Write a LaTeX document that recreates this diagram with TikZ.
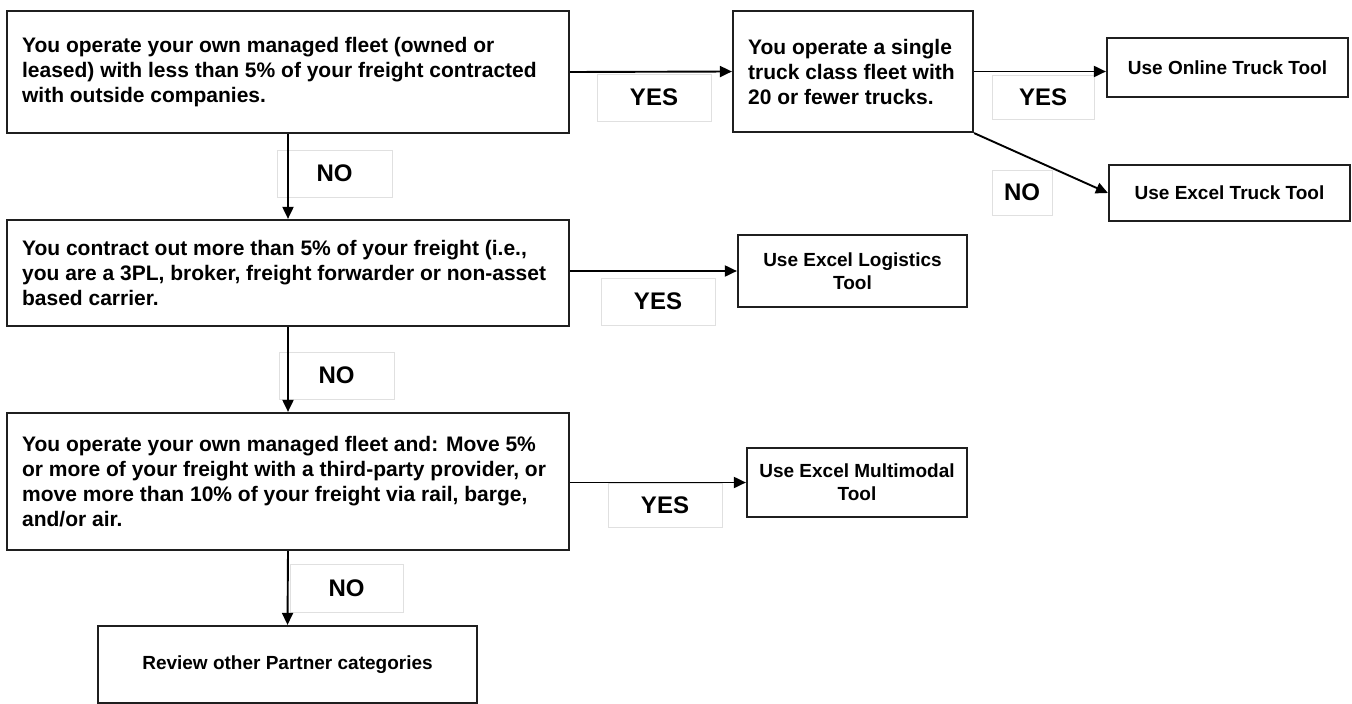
\documentclass[tikz,border=0pt]{standalone}
\usepackage{fontspec}
\setmainfont{Liberation Sans}
\usetikzlibrary{arrows.meta}
\begin{document}
\begin{tikzpicture}[x=1pt,y=-1pt,
  box/.style={draw=black!88, line width=2.2pt, inner sep=0pt},
  big/.style={font=\bfseries\fontsize{21}{25}\selectfont, align=left, inner sep=0pt, anchor=west},
  small/.style={font=\bfseries\fontsize{19}{23}\selectfont, align=center},
  lbl/.style={draw=black!12, line width=0.6pt, fill=white, font=\bfseries\fontsize{24}{28}\selectfont, inner sep=0pt},
  arr/.style={line width=1.9pt, draw=black, -{Triangle[length=12pt,width=11pt]}}]
\useasboundingbox (0,0) rectangle (1352,704);
\fill[white] (0,0) rectangle (1352,704);

% main question boxes
\node[box, minimum width=562pt, minimum height=122pt] (b1) at (288,72) {};
\node[big] (t1) at ([xshift=16pt]b1.west) {You operate your own managed fleet (owned or\\leased) with less than 5\% of your freight contracted\\with outside companies.};

\node[box, minimum width=240pt, minimum height=121pt] (b2) at (853,71.5) {};
\node[big] (t2) at ([xshift=16pt]b2.west) {You operate a single\\truck class fleet with\\20 or fewer trucks.};

\node[box, small, minimum width=241pt, minimum height=59pt] (b3) at (1227.5,67.5) {Use Online Truck Tool};
\node[box, small, minimum width=241pt, minimum height=56pt] (b4) at (1229.5,193) {Use Excel Truck Tool};

\node[box, minimum width=562pt, minimum height=106pt] (b5) at (288,273) {};
\node[big] (t5) at ([xshift=16pt]b5.west) {You contract out more than 5\% of your freight (i.e.,\\you are a 3PL, broker, freight forwarder or non-asset\\based carrier.};

\node[box, small, minimum width=229pt, minimum height=72pt] (b6) at (852.5,271) {Use Excel Logistics\\Tool};

\node[box, minimum width=562pt, minimum height=137pt] (b7) at (288,481.5) {};
\node[big] (t7) at ([xshift=16pt]b7.west) {You operate your own managed fleet and: Move 5\%\\or more of your freight with a third-party provider, or\\move more than 10\% of your freight via rail, barge,\\and/or air.};

\node[box, small, minimum width=220pt, minimum height=69pt] (b8) at (857,482.5) {Use Excel Multimodal\\Tool};

\node[box, small, minimum width=379pt, minimum height=77pt] (b9) at (287.5,664.5) {Review other Partner categories};

% labels
\node[lbl, minimum width=114pt, minimum height=47pt] (y1) at (654,97.5) {YES};
\node[lbl, minimum width=115pt, minimum height=47pt] (n1) at (334.5,173.5) {NO};
\node[lbl, minimum width=102pt, minimum height=44pt] (y2) at (1043,97) {YES};
\node[lbl, minimum width=60pt, minimum height=45pt] (n2) at (1022,192.5) {NO};
\node[lbl, minimum width=114pt, minimum height=47pt] (y3) at (658,301.5) {YES};
\node[lbl, minimum width=115pt, minimum height=47pt] (n3) at (336.5,375.5) {NO};
\node[lbl, minimum width=114pt, minimum height=44pt] (y4) at (665,505) {YES};
\node[lbl, minimum width=113pt, minimum height=48pt] (n4) at (346.5,588) {NO};

% connectors
\draw[arr] (b1.east) -- (b2.west);
\draw[arr] (b2.east) -- (b2.east -| b3.west);
\draw[arr] (b2.south east) -- (b4.west);
\draw[arr] (b1.south) -- (b5.north);
\draw[arr] (b5.east |- b6.west) -- (b6.west);
\draw[arr] (b5.south) -- (b7.north);
\draw[arr] (b7.east |- b8.west) -- (b8.west);
\draw[arr] (b7.south) -- (b9.north);
\end{tikzpicture}
\end{document}
